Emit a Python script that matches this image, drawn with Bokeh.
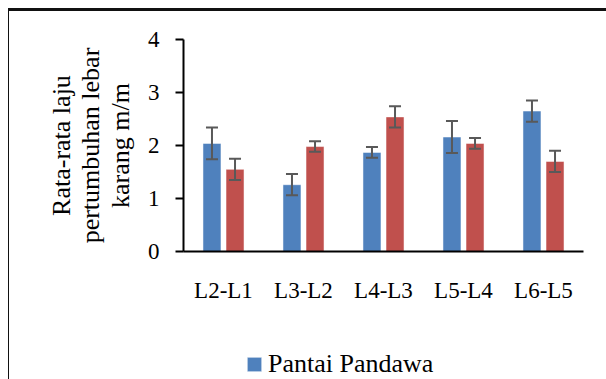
from bokeh.plotting import figure
from bokeh.layouts import column
from bokeh.models import (ColumnDataSource, FactorRange, Range1d, Whisker, TeeHead,
                          Legend, LegendItem, FixedTicker)
from bokeh.transform import dodge
from bokeh.embed import file_html
from bokeh.resources import INLINE

categories = ["L2-L1", "L3-L2", "L4-L3", "L5-L4", "L6-L5"]
pandawa = [2.04, 1.26, 1.87, 2.16, 2.65]
pandawa_err = [0.30, 0.20, 0.10, 0.30, 0.20]
series2 = [1.55, 1.98, 2.54, 2.04, 1.70]
series2_err = [0.20, 0.10, 0.20, 0.10, 0.20]
y_ticks = [0, 1, 2, 3, 4]
y_title = "Rata-rata laju\npertumbuhan lebar\nkarang m/m"
series_name = "Pantai Pandawa"

FONT = "Liberation Serif"
BLUE = "#4F81BD"
RED = "#C0504D"
ERR = "#595959"

src = ColumnDataSource(dict(
    cat=categories,
    a=pandawa, a_up=[v + e for v, e in zip(pandawa, pandawa_err)],
    a_lo=[v - e for v, e in zip(pandawa, pandawa_err)],
    b=series2, b_up=[v + e for v, e in zip(series2, series2_err)],
    b_lo=[v - e for v, e in zip(series2, series2_err)],
))

x_range = FactorRange(*categories)
p = figure(x_range=x_range, y_range=Range1d(0, 4),
           width=598, height=300, output_backend="svg", toolbar_location=None,
           min_border_left=175, min_border_right=23, min_border_top=31,
           min_border_bottom=57)
p.frame_width = 400
p.frame_height = 212
p.border_fill_color = None
p.outline_line_color = None
p.background_fill_color = None

off = 0.144
bw = 0.225
p.vbar(x=dodge("cat", -off, range=x_range), top="a", width=bw, source=src,
       fill_color=BLUE, line_color="white", line_alpha=0.5, line_width=1)
p.vbar(x=dodge("cat", off, range=x_range), top="b", width=bw, source=src,
       fill_color=RED, line_color="white", line_alpha=0.5, line_width=1)

for key, sh in (("a", -off), ("b", off)):
    w = Whisker(source=src, base=dodge("cat", sh, range=x_range),
                upper=key + "_up", lower=key + "_lo", level="overlay",
                line_color=ERR, line_width=2,
                upper_head=TeeHead(size=12, line_color=ERR, line_width=2),
                lower_head=TeeHead(size=12, line_color=ERR, line_width=2))
    p.add_layout(w)

p.xgrid.grid_line_color = None
p.ygrid.grid_line_color = None

# y axis
ya = p.yaxis[0]
ya.ticker = FixedTicker(ticks=y_ticks)
ya.axis_line_color = "#000"
ya.axis_line_width = 2
ya.major_tick_line_color = "#000"
ya.major_tick_line_width = 2
ya.major_tick_out = 8
ya.major_tick_in = 0
ya.minor_tick_line_color = None
ya.major_label_standoff = 16
ya.major_label_text_font = FONT
ya.major_label_text_font_size = "23px"
ya.major_label_text_color = "#000"
ya.axis_label = y_title
ya.axis_label_text_font = FONT
ya.axis_label_text_font_size = "26px"
ya.axis_label_text_font_style = "normal"
ya.axis_label_text_color = "#000"
ya.axis_label_text_line_height = 1.02
ya.axis_label_standoff = 10

# x axis
xa = p.xaxis[0]
xa.axis_line_color = "#000"
xa.axis_line_width = 2
xa.major_tick_line_color = None
xa.major_tick_out = 0
xa.major_tick_in = 0
xa.minor_tick_line_color = None
xa.major_label_standoff = 26
xa.major_label_text_font = FONT
xa.major_label_text_font_size = "23px"
xa.major_label_text_color = "#000"

# legend strip below the chart (frame aligned with the chart's frame)
lf = figure(width=598, height=71, output_backend="svg", toolbar_location=None,
            x_axis_location=None, y_axis_location=None, min_border=0,
            x_range=x_range, y_range=Range1d(0, 1))
lf.border_fill_color = None
lf.outline_line_color = None
lf.background_fill_color = None
lf.xgrid.grid_line_color = None
lf.ygrid.grid_line_color = None
swatch = lf.vbar(x="cat", top="a", width=bw, source=src, fill_color=BLUE,
                 line_color="white", line_alpha=0.5, line_width=1, visible=False)

legend = Legend(items=[LegendItem(label=series_name, renderers=[swatch], index=0)],
                location=(62, 0), orientation="horizontal",
                glyph_width=18, glyph_height=18, label_standoff=5,
                padding=0, margin=0, border_line_color=None,
                background_fill_alpha=0, inactive_fill_alpha=0,
                label_text_font="'Liberation Serif'", label_text_font_size="26px",
                label_text_font_style="normal", label_text_color="#000")
lf.add_layout(legend, "center")

layout = column(p, lf, spacing=0)
layout.styles = {"margin-left": "8px", "margin-top": "8px",
                 "box-shadow": "inset 1px 3px 0 0 #111"}

open("out.html", "w").write(file_html(layout, INLINE))
